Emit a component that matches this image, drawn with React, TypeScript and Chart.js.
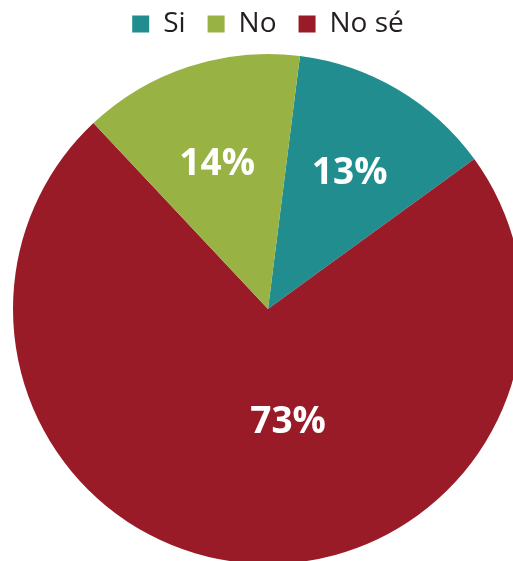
import React, { useEffect, useRef } from "react";
import { Chart, registerables } from "chart.js";

Chart.register(...registerables);

// Legend order
const categories = ["Si", "No", "No sé"];
const values = [13, 14, 73];
const colors = ["#228D8E", "#98B244", "#9A1B28"];
// Clockwise drawing order of the slices (indices into the arrays above)
const drawOrder = [0, 2, 1];

const FONT = "'Open Sans', 'Noto Sans', 'DejaVu Sans', sans-serif";

// label placement per drawn slice: radial fraction and angular shift (deg)
const labelRadius = [0.62, 0.45, 0.6];
const labelShift = [0.5, -15.5, -1.4];

const percentLabels = {
  id: "percentLabels",
  afterDatasetsDraw(chart: any) {
    const ctx = chart.ctx;
    const meta = chart.getDatasetMeta(0);
    const data = chart.data.datasets[0].data as number[];
    ctx.save();
    ctx.fillStyle = "#ffffff";
    ctx.font = `bold 37px ${FONT}`;
    ctx.textAlign = "center";
    ctx.textBaseline = "middle";
    meta.data.forEach((arc: any, i: number) => {
      const p = arc.getProps(["x", "y", "startAngle", "endAngle", "outerRadius"], true);
      const mid = (p.startAngle + p.endAngle) / 2 + (labelShift[i] * Math.PI) / 180;
      const r = p.outerRadius * labelRadius[i];
      ctx.fillText(`${data[i]}%`, p.x + r * Math.cos(mid), p.y + r * Math.sin(mid));
    });
    ctx.restore();
  },
};

const legendSpace = {
  id: "legendSpace",
  beforeInit(chart: any) {
    const legend = chart.legend;
    if (!legend) return;
    const orig = legend.fit;
    legend.fit = function () {
      orig.call(this);
      this.height += 6;
    };
  },
};

export default function App() {
  const ref = useRef<HTMLCanvasElement | null>(null);
  useEffect(() => {
    if (!ref.current) return;
    const chart = new Chart(ref.current, {
      type: "pie",
      data: {
        labels: drawOrder.map((i) => categories[i]),
        datasets: [
          {
            data: drawOrder.map((i) => values[i]),
            backgroundColor: drawOrder.map((i) => colors[i]),
            borderWidth: 0,
          },
        ],
      },
      options: {
        responsive: false,
        animation: false,
        devicePixelRatio: 1,
        rotation: 7.2,
        layout: { padding: 0 },
        plugins: {
          tooltip: { enabled: false },
          legend: {
            position: "top",
            labels: {
              boxWidth: 17,
              boxHeight: 17,
              padding: 22,
              color: "#231F20",
              font: { family: FONT, size: 28 },
              sort: (a: any, b: any) => drawOrder[a.index] - drawOrder[b.index],
            },
          },
        },
      },
      plugins: [legendSpace, percentLabels],
    });
    return () => chart.destroy();
  }, []);
  return (
    <div
      style={{
        position: "fixed",
        left: 0,
        top: 0,
        width: 513,
        height: 561,
        overflow: "hidden",
        background: "#fff",
      }}
    >
      <div style={{ position: "absolute", left: 0, top: -12, width: 536, height: 576 }}>
        <canvas ref={ref} width={536} height={576} style={{ display: "block" }} />
      </div>
    </div>
  );
}
